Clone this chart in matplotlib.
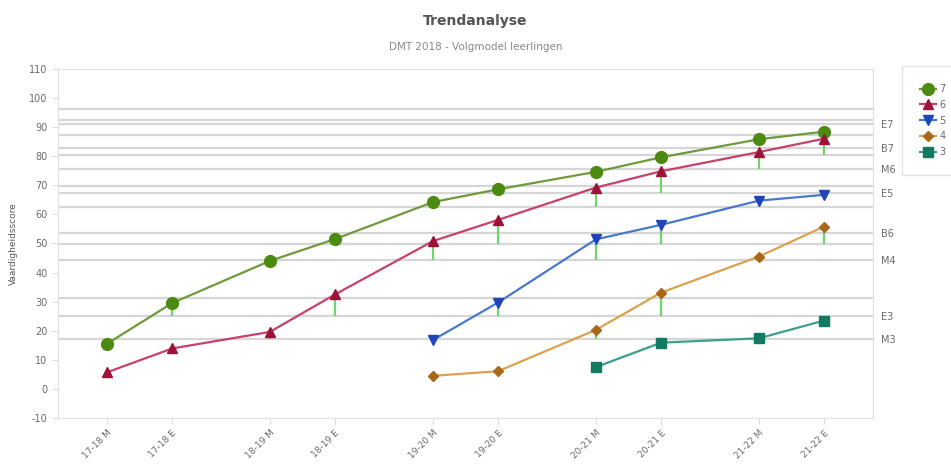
import numpy as np
import matplotlib.pyplot as plt

plt.rcParams["axes.unicode_minus"] = False

periods = ["17-18 M", "17-18 E", "18-19 M", "18-19 E", "19-20 M",
           "19-20 E", "20-21 M", "20-21 E", "21-22 M", "21-22 E"]

nan = np.nan
groep7 = [15.5, 29.5, 44.0, 51.5, 64.2, 68.6, 74.6, 79.6, 85.8, 88.4]
groep6 = [5.7, 13.9, 19.6, 32.5, 50.8, 58.1, 69.2, 74.8, 81.4, 86.0]
groep5 = [nan, nan, nan, nan, 16.8, 29.7, 51.4, 56.4, 64.7, 66.7]
groep4 = [nan, nan, nan, nan, 4.5, 6.1, 20.3, 33.1, 45.5, 55.8]
groep3 = [nan, nan, nan, nan, nan, nan, 7.5, 15.9, 17.4, 23.5]

# norm lines with labels on the right ('' = no label shown)
norm_values = [96.3, 92.4, 91.2, 87.2, 82.7, 80.5, 75.6, 69.7, 67.3,
               62.4, 53.6, 49.8, 44.2, 31.1, 25.2, 17.2]
norm_labels = ["", "", "E7", "", "B7", "", "M6", "", "E5",
               "", "B6", "", "M4", "", "E3", "M3"]

# green bars: series, period index, norm it sits above
dev_series = ["7", "6", "6", "6", "6", "5", "6", "5", "4",
              "6", "5", "4", "6", "5", "6", "4"]
dev_period = [1, 2, 3, 4, 5, 5, 6, 6, 6, 7, 7, 7, 8, 8, 9, 9]
dev_norm = [25.2, 17.2, 25.2, 44.2, 49.8, 25.2, 62.4, 44.2, 17.2,
            67.3, 49.8, 25.2, 75.6, 62.4, 80.5, 49.8]

series = {"7": groep7, "6": groep6, "5": groep5, "4": groep4, "3": groep3}
styles = {
    "7": dict(marker="o", ms=8.5, color="#6e9a3c", mfc="#4d8a12", mec="#4d8a12"),
    "6": dict(marker="^", ms=6.5, color="#c8416a", mfc="#9c1238", mec="#9c1238"),
    "5": dict(marker="v", ms=6.5, color="#4a78cc", mfc="#1f45b8", mec="#1f45b8"),
    "4": dict(marker="D", ms=5.5, color="#d9a24e", mfc="#a8681a", mec="#a8681a"),
    "3": dict(marker="s", ms=7.5, color="#3aa08a", mfc="#137a62", mec="#137a62"),
}

# M at start of school year, E about 0.4 later
x = np.array([i // 2 + (0.4 if p.endswith("E") else 0.0) for i, p in enumerate(periods)])

fig = plt.figure(figsize=(9.51, 4.65), dpi=100)
ax = fig.add_axes([0.061, 0.101, 0.857, 0.751])

grey = "#6a6a6a"
for v in norm_values:
    ax.axhline(v, color="#d6d6d6", lw=1.6, zorder=1)

for s, p, n in zip(dev_series, dev_period, dev_norm):
    ax.vlines(x[p], n, series[s][p], color="#6fd36f", lw=1.6, zorder=2)

for name, vals in series.items():
    st = styles[name]
    ax.plot(x, vals, lw=1.6, label=name, zorder=3, **st)

ax.set_xlim(-0.3, 4.7)
ax.set_ylim(-10, 110)
ax.set_yticks(np.arange(-10, 111, 10))
ax.set_xticks(x)
ax.set_xticklabels(periods, rotation=45, ha="right", rotation_mode="anchor")
ax.tick_params(colors="#dddddd", labelcolor=grey, labelsize=7, length=4)
ax.tick_params(axis="x", labelsize=6.5)
for sp in ax.spines.values():
    sp.set_color("#e0e0e0")

ax.set_ylabel("Vaardigheidsscore", fontsize=6.5, color="#555555", labelpad=8)

ax2 = ax.twinx()
ax2.set_ylim(ax.get_ylim())
lab_pos = [v for v, l in zip(norm_values, norm_labels) if l]
ax2.set_yticks(lab_pos)
ax2.set_yticklabels([l for l in norm_labels if l])
ax2.tick_params(length=0, labelsize=7, labelcolor=grey, pad=6)
for sp in ax2.spines.values():
    sp.set_visible(False)

fig.text(0.5, 0.955, "Trendanalyse", ha="center", va="center",
         fontsize=10, fontweight="bold", color="#555555")
fig.text(0.5, 0.898, "DMT 2018 - Volgmodel leerlingen", ha="center", va="center",
         fontsize=7.5, color="#888888")

leg = fig.legend(loc="upper left", bbox_to_anchor=(0.949, 0.857), fontsize=7,
                 frameon=True, fancybox=False, edgecolor="#dddddd",
                 handlelength=1.6, handletextpad=0.4, labelspacing=0.6,
                 borderpad=1.8, borderaxespad=0)
for t in leg.get_texts():
    t.set_color(grey)

plt.savefig("out.png", dpi=100)
